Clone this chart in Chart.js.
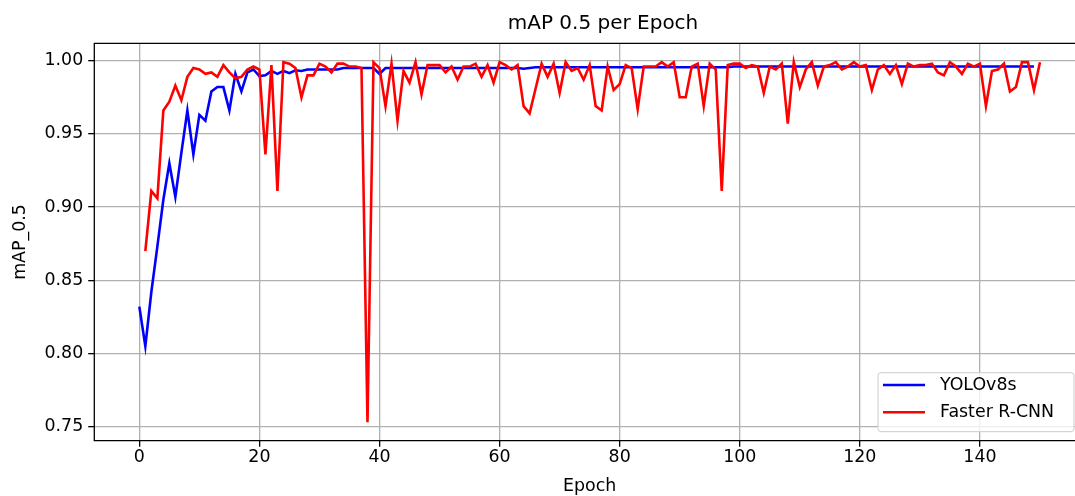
<!DOCTYPE html>
<html>
<head>
<meta charset="utf-8">
<script src="https://cdn.jsdelivr.net/npm/chart.js@4.4.1/dist/chart.umd.min.js"></script>
<style>
  html, body { margin: 0; padding: 0; background: #fff; overflow: hidden; }
  #wrap { width: 1090px; height: 496px; position: relative; }
</style>
</head>
<body>
<div id="wrap"><canvas id="mapChart"></canvas></div>
<script>
// mAP 0.5 per epoch
const chartTitle = 'mAP 0.5 per Epoch';
const xTitle = 'Epoch';
const yTitle = 'mAP_0.5';

const xTicks = [0, 20, 40, 60, 80, 100, 120, 140];
const yTicks = [0.75, 0.80, 0.85, 0.90, 0.95, 1.00];

// YOLOv8s starts at epoch 0
const yoloStart = 0;
const yoloValues = [
    0.832, 0.805, 0.842, 0.873, 0.905, 0.930, 0.907, 0.937, 0.966, 0.936,
    0.963, 0.959, 0.979, 0.982, 0.982, 0.966, 0.991, 0.979, 0.992, 0.994,
    0.9895, 0.990, 0.993, 0.991, 0.993, 0.9915, 0.9935, 0.993, 0.994, 0.994,
    0.994, 0.994, 0.994, 0.994, 0.995, 0.995, 0.995, 0.995, 0.995, 0.995,
    0.991, 0.995, 0.995, 0.995, 0.995, 0.995, 0.995, 0.995, 0.995, 0.995,
    0.995, 0.995, 0.995, 0.995, 0.995, 0.995, 0.995, 0.995, 0.995, 0.995,
    0.995, 0.995, 0.995, 0.995, 0.9945, 0.995, 0.9955, 0.9955, 0.9955, 0.9955,
    0.9955, 0.9955, 0.9955, 0.9955, 0.9955, 0.9955, 0.9955, 0.9955, 0.9955, 0.9955,
    0.9955, 0.9955, 0.9955, 0.9955, 0.9955, 0.9955, 0.9955, 0.9955, 0.9955, 0.9955,
    0.9955, 0.9955, 0.9955, 0.9955, 0.9955, 0.9955, 0.9955, 0.9955, 0.9955, 0.996,
    0.996, 0.996, 0.996, 0.996, 0.996, 0.996, 0.996, 0.996, 0.996, 0.996,
    0.996, 0.996, 0.996, 0.996, 0.996, 0.996, 0.996, 0.996, 0.996, 0.996,
    0.996, 0.996, 0.996, 0.996, 0.996, 0.996, 0.996, 0.996, 0.996, 0.996,
    0.996, 0.996, 0.996, 0.996, 0.996, 0.996, 0.996, 0.996, 0.996, 0.996,
    0.996, 0.996, 0.996, 0.996, 0.996, 0.996, 0.996, 0.996, 0.996, 0.996
];

// Faster R-CNN starts at epoch 1
const frcnnStart = 1;
const frcnnValues = [
    0.870, 0.911, 0.906, 0.966, 0.972, 0.983, 0.973, 0.989, 0.995, 0.994,
    0.991, 0.992, 0.989, 0.997, 0.992, 0.988, 0.989, 0.994, 0.996, 0.994,
    0.936, 0.997, 0.911, 0.999, 0.998, 0.995, 0.975, 0.990, 0.990, 0.998,
    0.996, 0.992, 0.998, 0.998, 0.996, 0.996, 0.995, 0.753, 0.999, 0.995,
    0.969, 0.998, 0.959, 0.993, 0.985, 0.999, 0.977, 0.997, 0.997, 0.997,
    0.992, 0.996, 0.987, 0.996, 0.996, 0.998, 0.989, 0.997, 0.985, 0.999,
    0.997, 0.994, 0.997, 0.969, 0.964, 0.981, 0.998, 0.989, 0.998, 0.978,
    0.999, 0.993, 0.995, 0.987, 0.997, 0.969, 0.966, 0.996, 0.980, 0.984,
    0.997, 0.995, 0.967, 0.996, 0.996, 0.996, 0.999, 0.996, 0.999, 0.975,
    0.975, 0.996, 0.998, 0.969, 0.998, 0.994, 0.911, 0.997, 0.998, 0.998,
    0.995, 0.997, 0.996, 0.978, 0.996, 0.994, 0.998, 0.957, 0.999, 0.982,
    0.994, 0.999, 0.983, 0.996, 0.997, 0.999, 0.994, 0.996, 0.999, 0.996,
    0.997, 0.980, 0.994, 0.997, 0.991, 0.997, 0.984, 0.998, 0.996, 0.997,
    0.997, 0.998, 0.992, 0.990, 0.999, 0.996, 0.991, 0.998, 0.996, 0.998,
    0.969, 0.993, 0.994, 0.998, 0.979, 0.982, 0.999, 0.999, 0.980, 0.999
];

function toPoints(start, values) {
    return values.map((v, i) => ({ x: start + i, y: v }));
}

const fontFamily = "'DejaVu Sans', sans-serif";
const tickFont = { family: fontFamily, size: 17.4 };

// spines: left, bottom and top (the right one is cut off in the reference)
const framePlugin = {
    id: 'frame',
    afterDatasetsDraw(chart) {
        const { ctx, chartArea: a } = chart;
        ctx.save();
        ctx.strokeStyle = '#000';
        ctx.lineWidth = 1.3;
        ctx.beginPath();
        ctx.moveTo(chart.width, a.top);
        ctx.lineTo(a.left, a.top);
        ctx.lineTo(a.left, a.bottom);
        ctx.lineTo(chart.width, a.bottom);
        ctx.stroke();
        ctx.restore();
    }
};

// title above the axes
const titlePlugin = {
    id: 'axTitle',
    afterDraw(chart) {
        const { ctx } = chart;
        ctx.save();
        ctx.fillStyle = '#000';
        ctx.font = '20px ' + fontFamily;
        ctx.textAlign = 'center';
        ctx.textBaseline = 'middle';
        ctx.fillText(chartTitle, 603, 24);
        ctx.restore();
    }
};

// legend box in the lower right corner of the axes
const legendPlugin = {
    id: 'boxLegend',
    afterDraw(chart) {
        const { ctx, chartArea: a } = chart;
        const w = 196, h = 59;
        const right = 1074, bottom = a.bottom - 9;
        const left = right - w, top = bottom - h;
        ctx.save();
        ctx.beginPath();
        ctx.roundRect(left, top, w, h, 3);
        ctx.fillStyle = 'rgba(255,255,255,0.8)';
        ctx.fill();
        ctx.strokeStyle = '#cccccc';
        ctx.lineWidth = 1;
        ctx.stroke();
        ctx.font = '17.4px ' + fontFamily;
        ctx.textBaseline = 'middle';
        ctx.fillStyle = '#000';
        const rows = [12.3, 39.6];
        chart.data.datasets.forEach((ds, i) => {
            const y = top + rows[i];
            ctx.beginPath();
            ctx.moveTo(left + 5, y);
            ctx.lineTo(left + 47, y);
            ctx.strokeStyle = ds.borderColor;
            ctx.lineWidth = ds.borderWidth;
            ctx.stroke();
            ctx.fillText(ds.label, left + 62, y);
        });
        ctx.restore();
    }
};

const ctx = document.getElementById('mapChart');
new Chart(ctx, {
    type: 'line',
    data: {
        datasets: [{
            label: 'YOLOv8s',
            data: toPoints(yoloStart, yoloValues),
            borderColor: '#0000ff',
            borderWidth: 2.6,
            pointRadius: 0,
            tension: 0,
            order: 1
        }, {
            label: 'Faster R-CNN',
            data: toPoints(frcnnStart, frcnnValues),
            borderColor: '#ff0000',
            borderWidth: 2.6,
            pointRadius: 0,
            tension: 0,
            order: 0
        }]
    },
    options: {
        responsive: true,
        maintainAspectRatio: false,
        animation: false,
        layout: { padding: { top: 43.3, right: 5, bottom: 0, left: 0 } },
        plugins: {
            legend: { display: false },
            title: { display: false },
            tooltip: { enabled: false }
        },
        scales: {
            x: {
                type: 'linear',
                min: -7.5,
                max: 157.5,
                afterBuildTicks(scale) {
                    scale.ticks = xTicks.map(v => ({ value: v }));
                },
                afterFit(scale) { scale.height = 55.3; },
                ticks: {
                    font: tickFont,
                    color: '#000',
                    padding: 0.5,
                    maxRotation: 0,
                    callback: v => String(v)
                },
                grid: {
                    color: '#b0b0b0',
                    lineWidth: 1.3,
                    tickColor: '#000',
                    tickLength: 6.1,
                    tickWidth: 1.3
                },
                border: { display: false },
                title: {
                    display: true,
                    text: xTitle,
                    font: tickFont,
                    color: '#000',
                    padding: { top: 0, bottom: -1 }
                }
            },
            y: {
                type: 'linear',
                min: 0.74044,
                max: 1.01189,
                afterBuildTicks(scale) {
                    scale.ticks = yTicks.map(v => ({ value: v }));
                },
                afterFit(scale) { scale.width = 94.3; },
                ticks: {
                    font: tickFont,
                    color: '#000',
                    padding: 5,
                    callback: v => v.toFixed(2)
                },
                grid: {
                    color: '#b0b0b0',
                    lineWidth: 1.3,
                    tickColor: '#000',
                    tickLength: 6.1,
                    tickWidth: 1.3
                },
                border: { display: false },
                title: {
                    display: true,
                    text: yTitle,
                    font: tickFont,
                    color: '#000',
                    padding: { top: 9.6, bottom: 0 }
                }
            }
        }
    },
    plugins: [framePlugin, titlePlugin, legendPlugin]
});
</script>
</body>
</html>
